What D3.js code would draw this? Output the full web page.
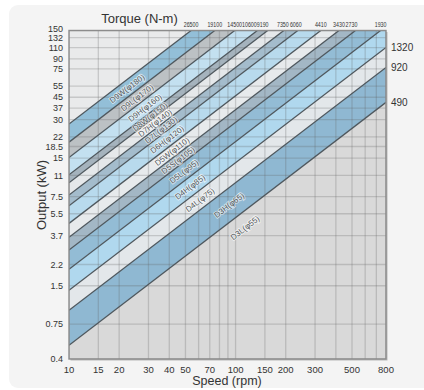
<!DOCTYPE html>
<html><head><meta charset="utf-8">
<script src="https://cdn.jsdelivr.net/npm/d3@7"></script>
<style>
html,body{margin:0;padding:0;background:#fff;}
svg{display:block;font-family:"Liberation Sans",Arial,sans-serif;}
</style></head>
<body>
<svg id="chart" width="424" height="390"></svg>
<script>
// ---------- data ----------
const speedTicks = [10, 15, 20, 30, 40, 50, 70, 100, 150, 200, 300, 500, 800];
const speedGrid = [10, 15, 20, 30, 40, 50, 60, 70, 80, 90, 100, 150, 200, 300, 400, 500, 600, 700, 800];
const outputTicks = [0.4, 0.75, 1.5, 2.2, 3.7, 5.5, 7.5, 11, 15, 18.5, 22, 30, 37, 45, 55, 75, 90, 110, 132, 150];
const torqueLines = [26500, 19100, 14500, 10600, 9190, 7350, 6060, 4410, 3430, 2730, 1930, 1320, 920, 490];
const topTorqueLabels = ["26500", "19100", "14500", "10600", "9190", "7350", "6060", "4410", "3430", "2730", "1930"];
const rightTorqueLabels = ["1320", "920", "490"];
const models = ["D9W(φ180)", "D9L(φ170)", "D9H(φ160)", "D8W(φ150)", "D7H(φ140)", "D7L(φ130)", "D6H(φ120)",
  "D5W(φ110)", "D5S(φ105)", "D5L(φ95)", "D4H(φ85)", "D4L(φ75)", "D3H(φ65)", "D3L(φ55)"];

// ---------- styling / layout ----------
const bandColors = ["#93bfd8", "#bcc1c4", "#c3e0f0", "#a5b3bd", "#e5e8ea", "#a4bccc", "#b8daed",
  "#e7eaec", "#a3b7c5", "#93bcd5", "#b0d8ee", "#e3e7ea", "#8fb8d2"];
const labelPx = [127, 137, 145, 150, 155, 161, 167, 172, 178, 184, 190, 200, 229, 245];
const topLabelShift = [0, 0, 0, -8, -5, -1, -2, 0, 0, -4, 0];

const K = 9550; // P[kW] = T[N·m] * n[rpm] / 9550
const svg = d3.select("#chart");
const x = d3.scaleLog().domain([10, 800]).range([69, 386]);
const y = d3.scaleLog().domain([0.4, 150]).range([359, 30.5]);
const [x0, x1] = x.range(), [y0, y1] = y.range();

// card
svg.append("rect").attr("x", 9).attr("y", 5).attr("width", 430).attr("height", 383)
  .attr("rx", 9).attr("fill", "#f4f4f4");

svg.append("defs").append("clipPath").attr("id", "plotclip")
  .append("rect").attr("x", x0).attr("y", y1).attr("width", x1 - x0).attr("height", y0 - y1);

// shadow of frame
svg.append("rect").attr("x", x0 + 1.5).attr("y", y1 + 1.5).attr("width", x1 - x0).attr("height", y0 - y1)
  .attr("fill", "#b8b8b8");

const plot = svg.append("g").attr("clip-path", "url(#plotclip)");
plot.append("rect").attr("x", x0).attr("y", y1).attr("width", x1 - x0).attr("height", y0 - y1).attr("fill", "#d9d9d9");

const P = (T, n) => T * n / K;
const line = d3.line().x(d => x(d[0])).y(d => y(d[1]));
const ends = [10, 800];

// region above first torque line
plot.append("path")
  .attr("d", line([[10, P(torqueLines[0], 10)], [800, P(torqueLines[0], 800)], [10, 1e5]]) + "Z")
  .attr("fill", "#e9eaeb");

// bands
for (let i = 0; i < torqueLines.length - 1; i++) {
  const a = torqueLines[i], b = torqueLines[i + 1];
  const pts = [[10, P(a, 10)], [800, P(a, 800)], [800, P(b, 800)], [10, P(b, 10)]];
  plot.append("path").attr("d", line(pts) + "Z").attr("fill", bandColors[i]);
}

// grid
plot.selectAll("line.vg").data(speedGrid).join("line")
  .attr("x1", d => x(d)).attr("x2", d => x(d)).attr("y1", y1).attr("y2", y0)
  .attr("stroke", "rgba(95,95,95,0.25)").attr("stroke-width", 1.3);
plot.selectAll("line.hg").data(outputTicks).join("line")
  .attr("y1", d => y(d)).attr("y2", d => y(d)).attr("x1", x0).attr("x2", x1)
  .attr("stroke", "rgba(95,95,95,0.25)").attr("stroke-width", 1.3);

// torque lines
plot.selectAll("path.tl").data(torqueLines).join("path")
  .attr("d", T => line(ends.map(n => [n, P(T, n)])))
  .attr("fill", "none").attr("stroke", "#4f585e").attr("stroke-width", 1.3);

// model labels
const angle = Math.atan((y(1) - y(10)) / (x(100) - x(10))) * 180 / Math.PI;
models.forEach((m, i) => {
  const a = torqueLines[i];
  const b = i + 1 < torqueLines.length ? torqueLines[i + 1] : a * a / torqueLines[i - 1];
  const Tm = Math.sqrt(a * b);
  const px = labelPx[i];
  const n = x.invert(px);
  const py = y(P(Tm, n));
  plot.append("text").attr("transform", `translate(${px},${py}) rotate(${-Math.abs(angle)})`)
    .attr("text-anchor", "middle").attr("dy", "0.35em")
    .attr("font-size", 8).attr("fill", "#52575a")
    .attr("stroke", "rgba(255,255,255,0.6)").attr("stroke-width", 1.8).attr("paint-order", "stroke")
    .text(m);
});

// frame
svg.append("rect").attr("x", x0).attr("y", y1).attr("width", x1 - x0).attr("height", y0 - y1)
  .attr("fill", "none").attr("stroke", "#8c8c8c").attr("stroke-width", 1.4);

// axis tick labels
svg.selectAll("text.xt").data(speedTicks).join("text")
  .attr("x", d => x(d)).attr("y", 373).attr("text-anchor", "middle")
  .attr("font-size", 9.5).attr("fill", "#333").text(d => d);
svg.selectAll("text.yt").data(outputTicks).join("text")
  .attr("x", 63).attr("y", d => y(d) + 3.2 + (d === 150 ? -1.5 : d === 132 ? 0.6 : 0)).attr("text-anchor", "end")
  .attr("font-size", 9).attr("fill", "#333").text(d => d);

// torque labels (condensed)
svg.selectAll("text.tt").data(topTorqueLabels).join("text")
  .attr("transform", (d, i) => `translate(${x(150 * K / torqueLines[i]) + topLabelShift[i]},27) scale(0.68,1)`)
  .attr("text-anchor", "middle").attr("font-size", 7.8)
  .attr("fill", "#333").text(d => d);
svg.selectAll("text.rt").data(rightTorqueLabels).join("text")
  .attr("x", 391).attr("y", (d, i) => y(P(torqueLines[topTorqueLabels.length + i], 800)) + 3.5)
  .attr("font-size", 10).attr("fill", "#333").text(d => d);

// titles
svg.append("text").attr("x", 139.5).attr("y", 23).attr("text-anchor", "middle")
  .attr("font-size", 13).attr("fill", "#333").text("Torque (N-m)");
svg.append("text").attr("transform", "translate(41,195) rotate(-90)").attr("text-anchor", "middle")
  .attr("dy", "0.35em").attr("font-size", 13).attr("fill", "#333").text("Output (kW)");
svg.append("text").attr("x", 227).attr("y", 385).attr("text-anchor", "middle")
  .attr("font-size", 12.5).attr("fill", "#333").text("Speed (rpm)");
</script>
</body></html>
